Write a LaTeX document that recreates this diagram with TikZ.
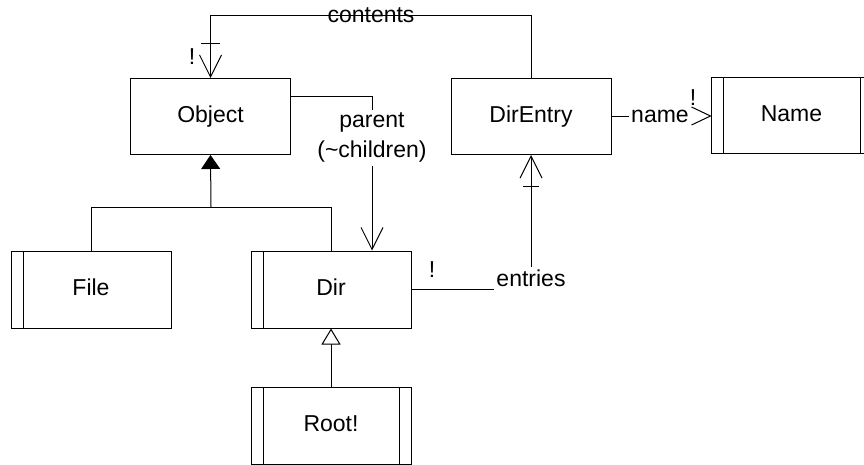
\documentclass[tikz,border=0pt]{standalone}
\usepackage{fontspec}
\setmainfont{Liberation Sans}
\usetikzlibrary{arrows.meta}
\begin{document}
\begin{tikzpicture}[x=1pt,y=-1pt,line width=1pt,
  every node/.style={font=\fontsize{23}{27}\selectfont},
  cls/.style={draw,rectangle,minimum width=160pt,minimum height=76pt,inner sep=0pt,
    text height=16.5pt,text depth=4.5pt},
  clsL/.style={cls,path picture={\draw ([xshift=12pt]path picture bounding box.north west) -- ([xshift=12pt]path picture bounding box.south west);}},
  clsLR/.style={cls,path picture={\draw ([xshift=12pt]path picture bounding box.north west) -- ([xshift=12pt]path picture bounding box.south west);
     \draw ([xshift=-12pt]path picture bounding box.north east) -- ([xshift=-12pt]path picture bounding box.south east);}},
  lbl/.style={inner sep=3pt,fill=white},
  bang/.style={inner sep=0pt,anchor=base},
  barb/.style={-{Straight Barb[length=22pt,width=22pt,line width=1pt]}},
  gen/.style={-{Triangle[length=14pt,width=19pt]}},
  genopen/.style={-{Triangle[open,length=16pt,width=19pt,fill=white]}}]
\useasboundingbox (0,0) rectangle (864,465);
% classes
\node[cls] (Object) at (210.5,116.5) {Object};
\node[cls] (DirEntry) at (531,116.5) {DirEntry};
\node[clsLR,minimum width=161pt] (Name) at (791.5,116) {Name};
\node[clsL,minimum height=77pt] (File) at (91,289.5) {File};
\node[clsL,minimum height=77pt] (Dir) at (331,289.5) {Dir};
\node[clsLR,minimum height=77pt] (Root) at (331,425.5) {Root!};
% labels
\node[lbl,text height=14pt,text depth=0pt] (contents) at (371,16) {contents};
\node[inner sep=3pt,anchor=base] (parent) at (372,128) {parent};
\node[inner sep=3pt,anchor=base] (children) at (372,158) {(\textasciitilde children)};
\node[inner sep=2pt,anchor=base] (entries) at (531,286) {entries};
\node[inner sep=2pt,anchor=base] (namelbl) at (660,123) {name};
\node[bang] (b1) at (192,65) {!};
\node[bang] (b2) at (432,277) {!};
\node[bang] (b3) at (693,106) {!};
% generalisation
\coordinate (j) at (211,207);
\draw (File.north) -- (File.north |- j) -- (Dir.north |- j) -- (Dir.north);
\draw[gen] (j) -- (Object.south);
\draw[genopen] (Root.north) -- (Dir.south);
% contents
\draw (contents.west) -| (DirEntry.north);
\draw[barb] (contents.east) -| (Object.north);
\draw ([shift={(-9.5pt,34pt)}]Object.north) -- ([shift={(9.5pt,34pt)}]Object.north);
% parent
\draw ([yshift=20pt]Object.east) -| (parent.north);
\draw[barb] (children.south) -- (children.south |- Dir.north);
% entries
\draw (Dir.east) -- (Dir.east -| entries.west);
\draw[barb] (entries.north) -- (entries.north |- DirEntry.south);
\draw ([shift={(-8pt,-32pt)}]DirEntry.south) -- ([shift={(8pt,-32pt)}]DirEntry.south);
% name
\draw (DirEntry.east) -- (DirEntry.east -| namelbl.west);
\draw ([shift={(-19pt,9pt)}]Name.west) -- (Name.west) -- ([shift={(-19pt,-9pt)}]Name.west);
\end{tikzpicture}
\end{document}
